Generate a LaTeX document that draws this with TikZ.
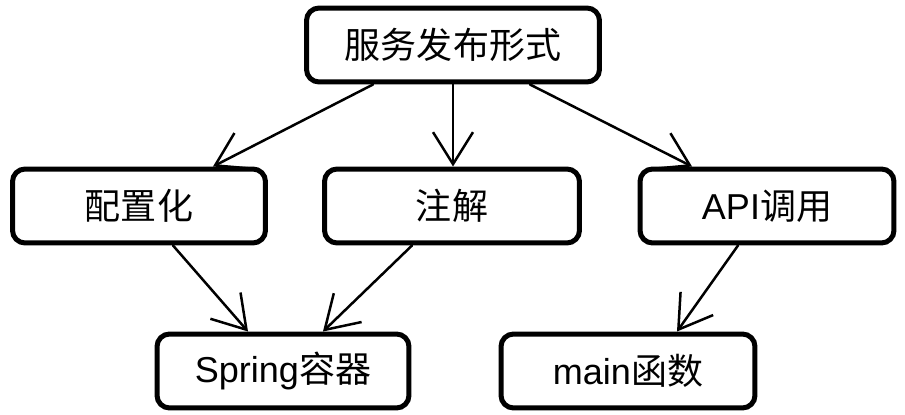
\documentclass[tikz,border=0pt]{standalone}
\usepackage{fontspec}
\setmainfont{Liberation Sans}
\newfontfamily\cjk{Noto Sans CJK SC}
\usetikzlibrary{arrows.meta}

\tikzset{
	box/.style={draw, line width=0.1cm, rounded corners=0.25cm, minimum height=1.48cm,
		font=\fontsize{20.5}{24}\selectfont},
	arr/.style={line width=0.05cm, line cap=round, -{Straight Barb[length=0.64cm, width=0.8cm, line width=0.05cm]}}
}

\begin{document}
\begin{tikzpicture}[x=0.02cm, y=-0.02cm]
		\useasboundingbox (0, 0) rectangle (905, 415);
		
		% top
		\node[box, minimum width=5.86cm] (form) at (453, 45) {\cjk 服务发布形式};
		
		% middle row
		\node[box, minimum width=5.06cm] (conf) at (139, 206) {\cjk 配置化};
		\node[box, minimum width=5.1cm] (anno) at (452, 206) {\cjk 注解};
		\node[box, minimum width=5.08cm] (api) at (767, 206) {API{\cjk 调用}};
		
		% bottom row
		\node[box, minimum width=5.04cm] (spring) at (283, 371) {Spring{\cjk 容器}};
		\node[box, minimum width=5.08cm] (main) at (628, 371) {main{\cjk 函数}};
		
		\draw[arr] ([xshift=-1.6cm]form.south) -- ([xshift=1.48cm]conf.north);
		\draw[arr] (form.south) -- (form.south |- anno.north);
		\draw[arr] ([xshift=1.54cm]form.south) -- ([xshift=-1.5cm]api.north);
		
		\draw[arr] ([xshift=0.68cm]conf.south) -- ([xshift=-0.7cm]spring.north);
		\draw[arr] ([xshift=-0.8cm]anno.south) -- ([xshift=0.8cm]spring.north);
		\draw[arr] ([xshift=-0.58cm]api.south) -- ([xshift=0.98cm]main.north);
\end{tikzpicture}
\end{document}
